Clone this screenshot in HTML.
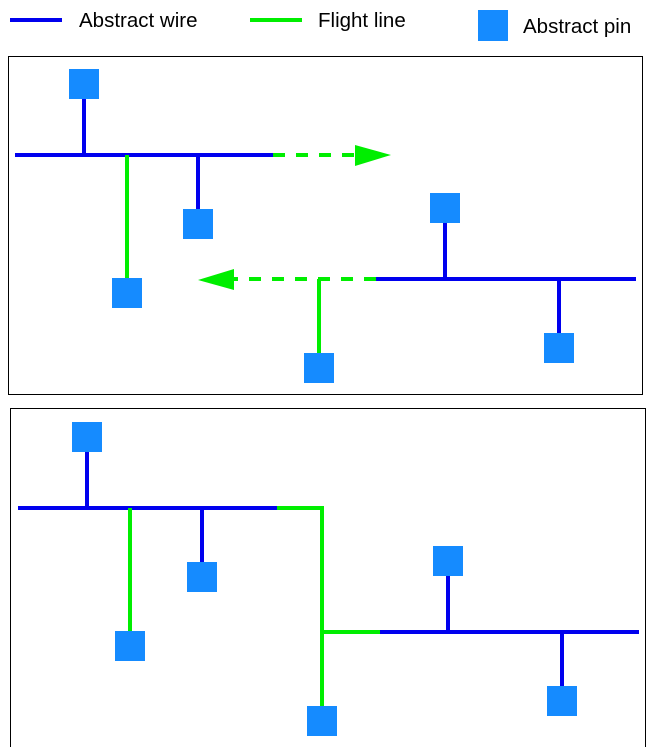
<!DOCTYPE html>
<html><head><style>body{margin:0;background:#fff;}svg{display:block}</style></head>
<body>
<svg width="671" height="747" viewBox="0 0 671 747" xmlns="http://www.w3.org/2000/svg">
<g font-family="Liberation Sans, sans-serif" font-size="20.5" fill="#000">
<line x1="10" y1="20" x2="62" y2="20" stroke="#0000ee" stroke-width="4"/>
<text x="79" y="27">Abstract wire</text>
<line x1="250" y1="20" x2="302" y2="20" stroke="#00ee00" stroke-width="4"/>
<text x="318" y="27">Flight line</text>
<rect x="478" y="10" width="30" height="31" fill="#158bff"/>
<text x="523" y="33">Abstract pin</text>
</g>
<rect x="8.5" y="56.5" width="634" height="338" fill="none" stroke="#000" stroke-width="1"/>
<rect x="10.5" y="408.5" width="635" height="345" fill="none" stroke="#000" stroke-width="1"/>
<g stroke-width="4" fill="none">
<line x1="15" y1="155" x2="273" y2="155" stroke="#0000ee"/>
<line x1="84" y1="99" x2="84" y2="155" stroke="#0000ee"/>
<line x1="198" y1="155" x2="198" y2="209" stroke="#0000ee"/>
<line x1="127" y1="155" x2="127" y2="278" stroke="#00ee00"/>
<line x1="273" y1="155" x2="356" y2="155" stroke="#00ee00" stroke-dasharray="12,11"/>
<line x1="376" y1="279" x2="636" y2="279" stroke="#0000ee"/>
<line x1="445" y1="223" x2="445" y2="279" stroke="#0000ee"/>
<line x1="559" y1="279" x2="559" y2="333" stroke="#0000ee"/>
<line x1="376" y1="279" x2="233" y2="279" stroke="#00ee00" stroke-dasharray="12,11"/>
<line x1="319" y1="279" x2="319" y2="353" stroke="#00ee00"/>
<line x1="18" y1="508" x2="277" y2="508" stroke="#0000ee"/>
<line x1="87" y1="452" x2="87" y2="508" stroke="#0000ee"/>
<line x1="202" y1="508" x2="202" y2="562" stroke="#0000ee"/>
<line x1="130" y1="508" x2="130" y2="631" stroke="#00ee00"/>
<polyline points="277,508 322,508 322,706" stroke="#00ee00"/>
<line x1="322" y1="632" x2="380" y2="632" stroke="#00ee00"/>
<line x1="380" y1="632" x2="639" y2="632" stroke="#0000ee"/>
<line x1="448" y1="576" x2="448" y2="632" stroke="#0000ee"/>
<line x1="562" y1="632" x2="562" y2="686" stroke="#0000ee"/>
</g>
<polygon points="355,145 391,155 355,166" fill="#00ee00"/>
<polygon points="234,269 198,280 234,290" fill="#00ee00"/>
<g fill="#158bff">
<rect x="69" y="69" width="30" height="30"/>
<rect x="183" y="209" width="30" height="30"/>
<rect x="112" y="278" width="30" height="30"/>
<rect x="430" y="193" width="30" height="30"/>
<rect x="544" y="333" width="30" height="30"/>
<rect x="304" y="353" width="30" height="30"/>
<rect x="72" y="422" width="30" height="30"/>
<rect x="187" y="562" width="30" height="30"/>
<rect x="115" y="631" width="30" height="30"/>
<rect x="433" y="546" width="30" height="30"/>
<rect x="547" y="686" width="30" height="30"/>
<rect x="307" y="706" width="30" height="30"/>
</g>
</svg>
</body></html>
